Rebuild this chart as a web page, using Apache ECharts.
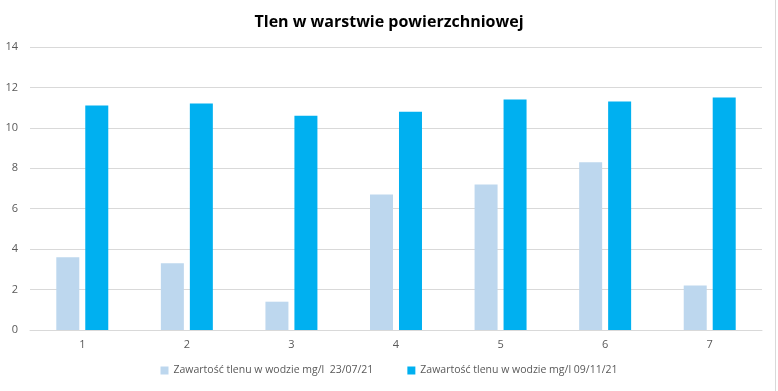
<!DOCTYPE html>
<html><head><meta charset="utf-8">
<script src="https://cdn.jsdelivr.net/npm/echarts@6/dist/echarts.min.js"></script>
<style>html,body{margin:0;padding:0;background:#fff}#c{width:778px;height:391px}</style>
</head><body><div id="c"></div>
<script>
const categories = ['1','2','3','4','5','6','7'];
const seriesNames = ['Zawartość tlenu w wodzie mg/l  23/07/21', 'Zawartość tlenu w wodzie mg/l 09/11/21'];
const july = [3.6, 3.3, 1.4, 6.7, 7.2, 8.3, 2.2];
const november = [11.1, 11.2, 10.6, 10.8, 11.4, 11.3, 11.5];
const titleText = 'Tlen w warstwie powierzchniowej';

const chart = echarts.init(document.getElementById('c'), null, {renderer:'canvas'});
const font = '"Open Sans", "Noto Sans", sans-serif';
chart.setOption({
  animation: false,
  title: { text: titleText, left: 'center', top: 9,
    textStyle: { fontFamily: font, fontSize: 16, fontWeight: 'bold', color: '#000' } },
  legend: { bottom: 10, left: 'center', itemWidth: 8, itemHeight: 8, itemGap: 34, icon: 'rect',
    textStyle: { fontFamily: font, fontSize: 10.5, color: '#595959' },
    data: seriesNames },
  grid: { left: 30, right: 16, top: 47, bottom: 61, containLabel: false },
  xAxis: { type: 'category', data: categories,
    axisLine: { lineStyle: { color: '#d9d9d9' } }, axisTick: { show: false },
    axisLabel: { color: '#595959', fontFamily: font, fontSize: 11, margin: 9 } },
  yAxis: { type: 'value', min: 0, max: 14, interval: 2,
    axisLine: { show: false }, axisTick: { show: false },
    splitLine: { lineStyle: { color: '#d9d9d9' } },
    axisLabel: { color: '#595959', fontFamily: font, fontSize: 11, margin: 12 } },
  series: [
    { name: seriesNames[0], type: 'bar', data: july, barWidth: 23, barGap: '26%', itemStyle: { color: '#bdd7ee' } },
    { name: seriesNames[1], type: 'bar', data: november, barWidth: 23, itemStyle: { color: '#00b0f0' } }
  ],
  graphic: [{ type: 'line', shape: { x1: 775.5, y1: 0, x2: 775.5, y2: 391 }, style: { stroke: '#d9d9d9', lineWidth: 1 } }]
});
</script></body></html>
